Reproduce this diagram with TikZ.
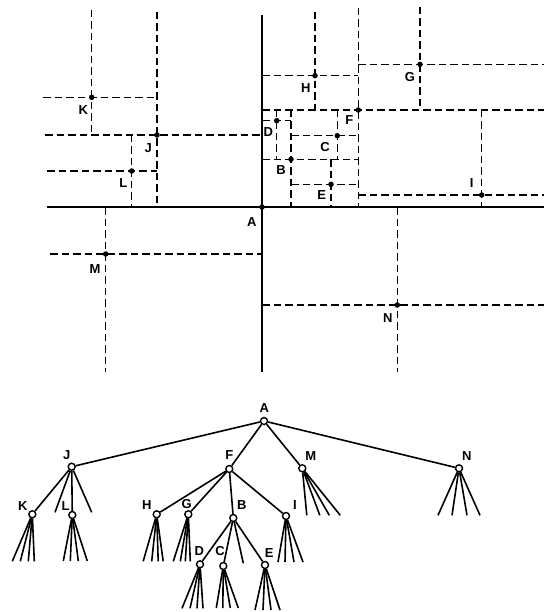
\documentclass[tikz,border=0pt]{standalone}
\usepackage{fontspec}
\setmainfont{Liberation Sans}
\usepackage{tikz}
\usetikzlibrary{positioning}

\begin{document}
\begin{tikzpicture}[x=1pt,y=-1pt,
	axis/.style={line width=2pt},
	cut/.style={line width=1.4pt,dash pattern=on 7.5pt off 4pt},
	pt/.style={circle,fill,inner sep=0pt,minimum size=5.5pt},
	lbl/.style={inner sep=0pt,font=\fontsize{13}{15}\selectfont\bfseries},
	vtx/.style={circle,draw,fill=white,inner sep=0pt,minimum size=7pt,line width=1.4pt},
	edge/.style={line width=1.6pt},
	]
	\useasboundingbox (0,0) rectangle (544,612);
	% the plane
	\coordinate (pA) at (262,207);
	\coordinate (pB) at (291,159.3);
	\coordinate (pC) at (337.3,135.7);
	\coordinate (pD) at (276.7,120.7);
	\coordinate (pE) at (331,184.3);
	\coordinate (pF) at (358.3,110);
	\coordinate (pG) at (420,64.3);
	\coordinate (pH) at (315,75.7);
	\coordinate (pI) at (481.7,195);
	\coordinate (pJ) at (157,135);
	\coordinate (pK) at (91.7,97.3);
	\coordinate (pL) at (131.7,171);
	\coordinate (pM) at (105.7,254);
	\coordinate (pN) at (397.3,305);
	
	\draw[axis] (47,207)--(544,207);
	\draw[axis] (262,15)--(262,372);
	
	\draw[cut] (91.7,10)--(91.7,135);
	\draw[cut] (43,97.3)--(157,97.3);
	\draw[cut] (157,12)--(157,207);
	\draw[cut] (45,135)--(262,135);
	\draw[cut] (131.7,135)--(131.7,207);
	\draw[cut] (47,171)--(157,171);
	\draw[cut] (105.7,207)--(105.7,372);
	\draw[cut] (50,254)--(262,254);
	\draw[cut] (397.3,207)--(397.3,372);
	\draw[cut] (262,305)--(544,305);
	
	\draw[cut] (358.3,8)--(358.3,207);
	\draw[cut] (262,110)--(544,110);
	\draw[cut] (315,12)--(315,110);
	\draw[cut] (262,75.7)--(358.3,75.7);
	\draw[cut] (420,7)--(420,110);
	\draw[cut] (358.3,64.3)--(544,64.3);
	\draw[cut] (481.7,110)--(481.7,207);
	\draw[cut] (358.3,195)--(544,195);
	\draw[cut] (291,110)--(291,207);
	\draw[cut] (262,159.3)--(358.3,159.3);
	\draw[cut] (276.7,110)--(276.7,159.3);
	\draw[cut] (262,120.7)--(291,120.7);
	\draw[cut] (337.3,110)--(337.3,159.3);
	\draw[cut] (291,135.7)--(358.3,135.7);
	\draw[cut] (331,159.3)--(331,207);
	\draw[cut] (291,184.3)--(358.3,184.3);
	
	\foreach \p in {A,B,C,D,E,F,G,H,I,J,K,L,M,N}
		\node[pt] (d\p) at (p\p) {};
	
	\node[lbl] (lA) at (251.7,221.7) {A};
	\node[lbl] (lB) at (281,170) {B};
	\node[lbl] (lC) at (325,147.3) {C};
	\node[lbl] (lD) at (268.3,131.7) {D};
	\node[lbl] (lE) at (321.7,195) {E};
	\node[lbl] (lF) at (349.3,120) {F};
	\node[lbl] (lG) at (410,77.3) {G};
	\node[lbl] (lH) at (305.7,88.3) {H};
	\node[lbl] (lI) at (471.7,183.3) {I};
	\node[lbl] (lJ) at (148.3,148.3) {J};
	\node[lbl] (lK) at (83.3,110) {K};
	\node[lbl] (lL) at (123.3,183.3) {L};
	\node[lbl] (lM) at (95,269) {M};
	\node[lbl] (lN) at (387.7,317.7) {N};
	
	% the tree
	\node[vtx] (tA) at (264,421) {};
	\node[vtx] (tJ) at (71.7,466.7) {};
	\node[vtx] (tF) at (229.3,469) {};
	\node[vtx] (tM) at (302.3,468.3) {};
	\node[vtx] (tN) at (459,468.3) {};
	\node[vtx] (tK) at (32.3,514.3) {};
	\node[vtx] (tL) at (72.3,515) {};
	\node[vtx] (tH) at (156.7,514.3) {};
	\node[vtx] (tG) at (188.3,514.3) {};
	\node[vtx] (tB) at (233.3,518) {};
	\node[vtx] (tI) at (286,516) {};
	\node[vtx] (tD) at (200,564.3) {};
	\node[vtx] (tC) at (223.3,566) {};
	\node[vtx] (tE) at (265,565) {};
	\coordinate (tJ2) at (55,512.3);
	\coordinate (tJ4) at (91.7,512.3);
	\coordinate (tB3) at (243.3,563.3);
	
	\node[lbl] (uA) at (264.3,407.7) {A};
	\node[lbl] (uJ) at (66.7,455) {J};
	\node[lbl] (uF) at (229.3,455) {F};
	\node[lbl] (uM) at (310.7,455.7) {M};
	\node[lbl] (uN) at (466.7,455.7) {N};
	\node[lbl] (uK) at (22.7,505.7) {K};
	\node[lbl] (uL) at (65.7,505.7) {L};
	\node[lbl] (uH) at (146.7,505) {H};
	\node[lbl] (uG) at (186.7,504.3) {G};
	\node[lbl] (uB) at (241.7,505) {B};
	\node[lbl] (uI) at (295,505) {I};
	\node[lbl] (uD) at (199.3,551) {D};
	\node[lbl] (uC) at (220,551) {C};
	\node[lbl] (uE) at (269.3,552.7) {E};
	
	\draw[edge] (tA)--(tJ);
	\draw[edge] (tA)--(tF);
	\draw[edge] (tA)--(tM);
	\draw[edge] (tA)--(tN);
	\draw[edge] (tJ)--(tK);
	\draw[edge] (tJ)--(tJ2);
	\draw[edge] (tJ)--(tL);
	\draw[edge] (tJ)--(tJ4);
	\draw[edge] (tF)--(tH);
	\draw[edge] (tF)--(tG);
	\draw[edge] (tF)--(tB);
	\draw[edge] (tF)--(tI);
	\draw[edge] (tB)--(tD);
	\draw[edge] (tB)--(tC);
	\draw[edge] (tB)--(tB3);
	\draw[edge] (tB)--(tE);
	
	% empty quadrants below the leaves
	\foreach \nd/\dy/\xs in {tK/47/{-20,-12,-4,2}, tL/46/{-9,-2,6,15},
		tH/47/{-13.5,-5,1.5,6.5}, tG/47/{-15,-8,-3,2}, tI/46/{-8,-1,8,17},
		tM/47/{4.5,17.5,27,38}, tN/47/{-21,-7,8,21}, tD/44/{-18,-10,-3,3},
		tC/42/{-7,-0.5,7,15}, tE/45/{-10,-2,6,15}}
		\foreach \dx [count=\i] in \xs {
			\path (\nd) ++(\dx,\dy) coordinate (\nd-\i);
			\draw[edge] (\nd)--(\nd-\i);
		}
\end{tikzpicture}
\end{document}
